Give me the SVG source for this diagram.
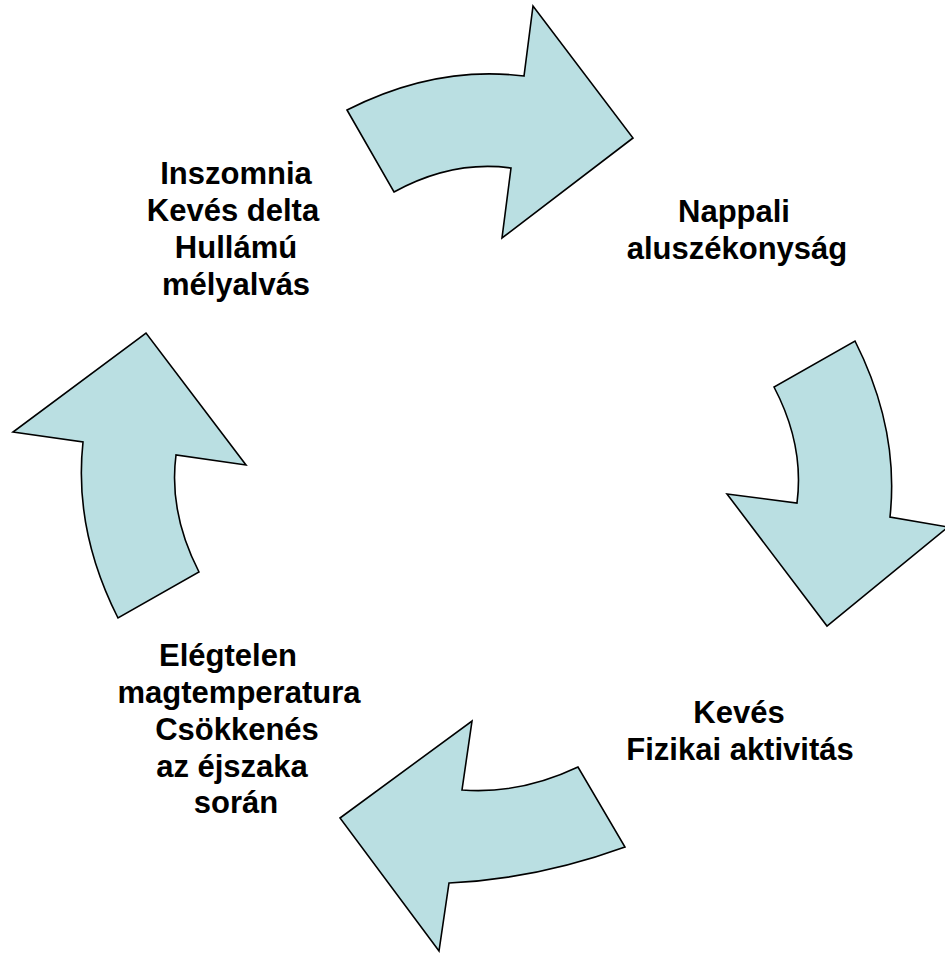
<svg xmlns="http://www.w3.org/2000/svg" width="945" height="954" viewBox="0 0 945 954">
<style>
.arrow{fill:#BADFE2;stroke:#000;stroke-width:1.6;stroke-linejoin:miter}
text{font-family:"Liberation Sans",Arial,sans-serif;font-weight:bold;font-size:31px;fill:#000;text-anchor:middle}
</style>
<rect width="945" height="954" fill="#fff"/>
<g id="connectors">
<path id="arrow-top" class="arrow" d="M347,110 Q435.5,65 524,76 L533,6 L633,138 L502,238 L511,168 Q452.5,160 394,192 Z"/>
<path id="arrow-right" class="arrow" d="M855,341 Q899.5,429 890,517 L948,527 L827,626 L727,494 L797,503 Q804.5,445 774,387 Z"/>
<path id="arrow-bottom" class="arrow" d="M625,847 Q537,879 449,883 L439,951 L340,818 L472,721 L462,790 Q520,794.5 578,767 Z"/>
<path id="arrow-left" class="arrow" d="M118,618 Q73.5,530 83,442 L13,432 L146,333 L246,465 L176,455 Q168.5,512.5 199,572 Z"/>
</g>
<g id="node-insomnia">
<text x="236" y="184">Inszomnia</text>
<text x="233" y="221">Kevés delta</text>
<text x="236" y="258">Hullámú</text>
<text x="236" y="295">mélyalvás</text>
</g>
<g id="node-daytime">
<text x="734" y="222">Nappali</text>
<text x="737" y="259">aluszékonyság</text>
</g>
<g id="node-activity">
<text x="739" y="723">Kevés</text>
<text x="740" y="760">Fizikai aktivitás</text>
</g>
<g id="node-temperature">
<text x="228" y="666">Elégtelen</text>
<text x="239" y="703">magtemperatura</text>
<text x="237" y="740">Csökkenés</text>
<text x="232" y="777">az éjszaka</text>
<text x="236" y="813">során</text>
</g>
</svg>
